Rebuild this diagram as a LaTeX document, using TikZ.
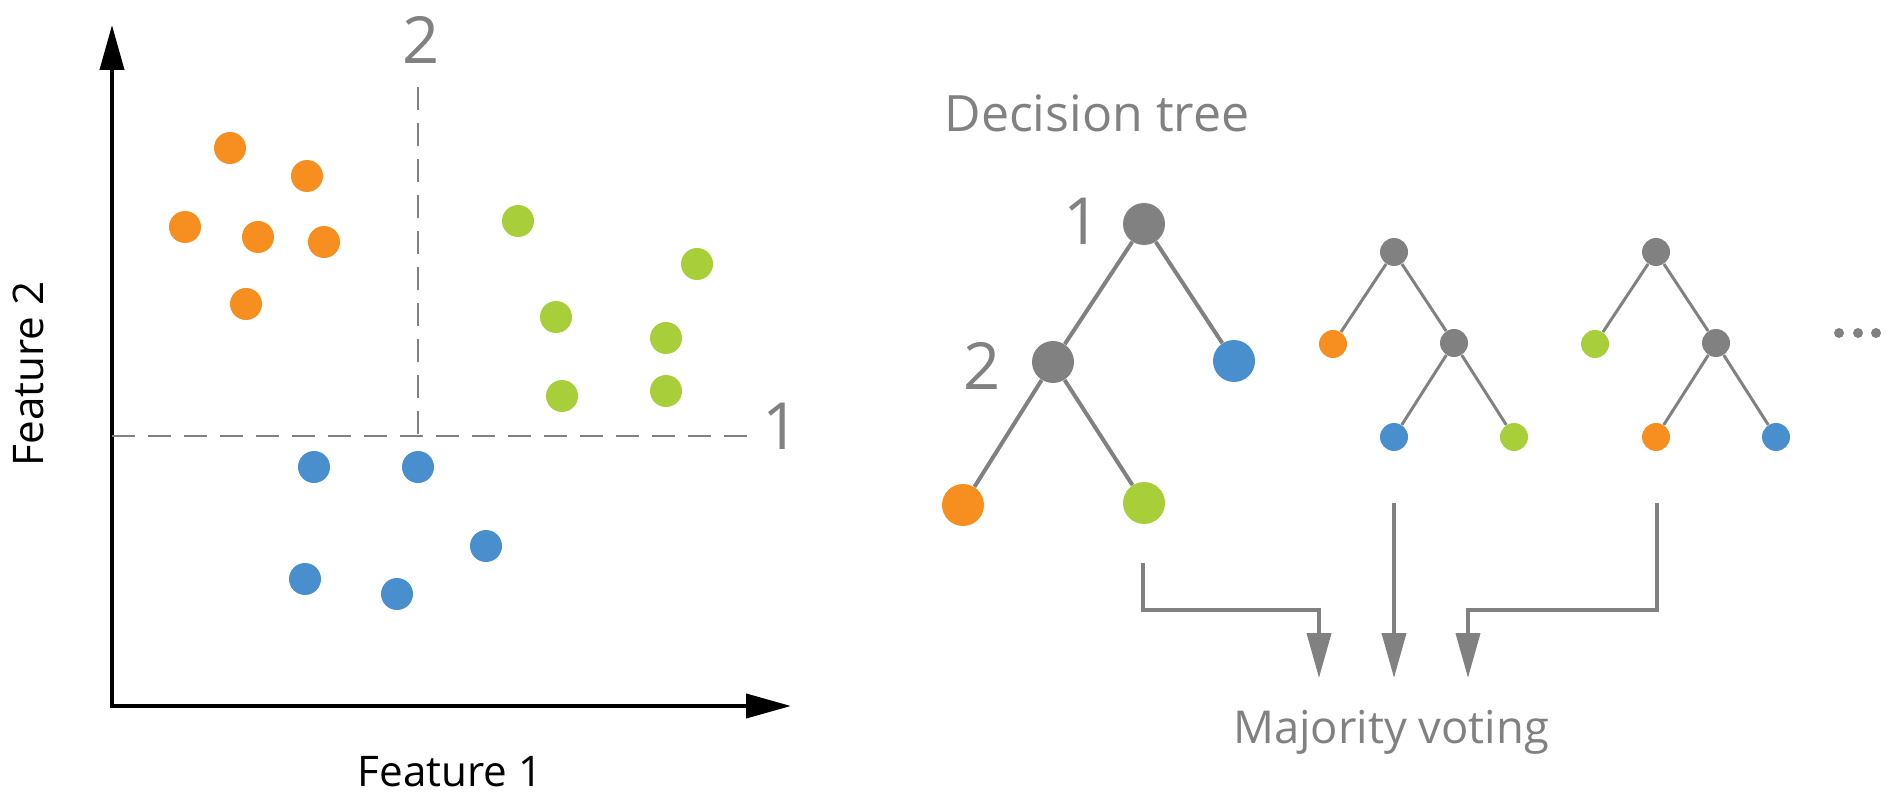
\documentclass[tikz,border=0pt]{standalone}
\usepackage{fontspec}
\setmainfont{Open Sans}
\usetikzlibrary{arrows.meta}
\definecolor{forange}{RGB}{246,142,32}
\definecolor{fgreen}{RGB}{168,206,57}
\definecolor{fblue}{RGB}{73,143,205}
\definecolor{fgrey}{RGB}{128,129,128}
\begin{document}
\begin{tikzpicture}[x=.02cm, y=-.02cm, >={Triangle[length=.9cm,width=.48cm]},
    pt/.style={circle, inner sep=0pt, minimum size=.64cm, fill=#1},
    big/.style={circle, inner sep=0pt, minimum size=.84cm, fill=#1},
    small/.style={circle, inner sep=0pt, minimum size=.56cm, fill=#1},
    branch/.style={fgrey, line width=.08cm},
    twig/.style={fgrey, line width=.06cm},
    num/.style={fgrey, anchor=base, font=\fontsize{37}{40}\selectfont},
    lab/.style={anchor=base, font=\fontsize{24}{28}\selectfont}]
\useasboundingbox (0,0) rectangle (1886,800);
\draw[<->, line width=.08cm](112,25)--(112,706)--(791,706);
\draw[fgrey, line width=.03cm, dash pattern=on .46cm off .26cm](418,87)--(418,436);
\draw[fgrey, line width=.03cm, dash pattern=on .46cm off .26cm](112,436)--(750,436);
\node[num] (cut2) at (421,64) {2};
\node[num] (cut1) at (781,449) {1};
\node[lab] (feat1) at (450,786) {Feature 1};
\node[lab, rotate=90] (feat2) at (43,374) {Feature 2};
\foreach \n/\x/\y/\c in {o1/230/148/forange, o2/307/176/forange, o3/185/227/forange,
    o4/258/237/forange, o5/324/242/forange, o6/246/304/forange,
    g1/518/221/fgreen, g2/697/264/fgreen, g3/556/317/fgreen,
    g4/666/338/fgreen, g5/562/396/fgreen, g6/666/391/fgreen,
    b1/314/467/fblue, b2/418/467/fblue, b3/486/546/fblue,
    b4/305/579/fblue, b5/397/594/fblue}
{
    \node[pt=\c] (\n) at (\x,\y) {};
}
\node[fgrey, anchor=base, font=\fontsize{28.5}{32}\selectfont] (title) at (1097,132) {Decision tree};
\node[big=fgrey] (root) at (1144,224) {};
\node[big=fgrey] (split) at (1053,362) {};
\node[big=fblue] (leafb) at (1234,361) {};
\node[big=forange] (leafo) at (963,505) {};
\node[big=fgreen] (leafg) at (1144,503) {};
\node[num] (num1) at (1082,245) {1};
\node[num] (num2) at (982,390) {2};
\draw[branch](root)--(split) (root)--(leafb) (split)--(leafo) (split)--(leafg);
\foreach \t/\x/\a/\b/\c in {p/1394/forange/fblue/fgreen, q/1656/fgreen/forange/fblue}
{
    \node[small=fgrey] (\t0) at (\x,252) {};
    \node[small=\a] (\t1) at (\x-61,344) {};
    \node[small=fgrey] (\t2) at (\x+60,343) {};
    \node[small=\b] (\t3) at (\x,437) {};
    \node[small=\c] (\t4) at (\x+120,437) {};
    \draw[twig](\t0)--(\t1) (\t0)--(\t2) (\t2)--(\t3) (\t2)--(\t4);
}
\foreach \x in {1839,1858,1876}
{
    \node[circle, inner sep=0pt, minimum size=.2cm, fill=fgrey] (dot\x) at (\x,333) {};
}
\node[fgrey, anchor=base, font=\fontsize{25.8}{30}\selectfont] (vote) at (1391,743) {Majority voting};
\coordinate (s1) at (1143,563);
\coordinate (s2) at (1394,503);
\coordinate (s3) at (1657,503);
\coordinate (e1) at (1319,678);
\coordinate (e2) at (1394,678);
\coordinate (e3) at (1468,678);
\draw[->, fgrey, line width=.08cm](s1)--++(0,47)-|(e1);
\draw[->, fgrey, line width=.08cm](s2)--(e2);
\draw[->, fgrey, line width=.08cm](s3)--++(0,107)-|(e3);
\end{tikzpicture}
\end{document}
